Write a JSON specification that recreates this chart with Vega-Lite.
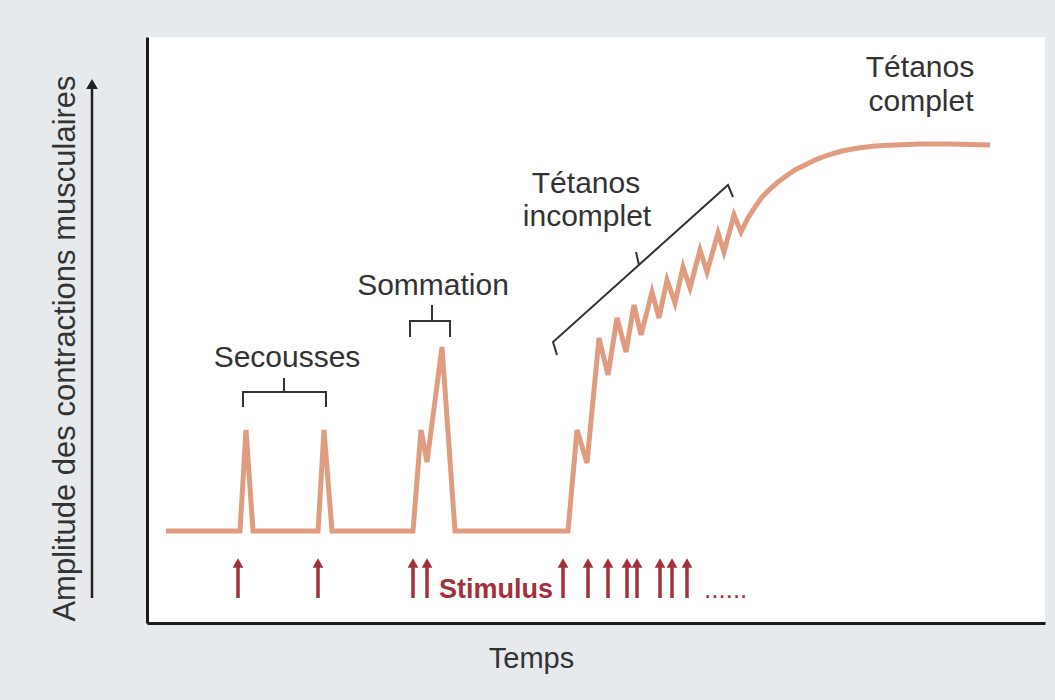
{
  "$schema": "https://vega.github.io/schema/vega-lite/v6.json",
  "width": 898,
  "height": 586,
  "autosize": "none",
  "padding": {"left": 147, "top": 37, "right": 10, "bottom": 77},
  "background": "#e7eaed",
  "view": {"fill": "#ffffff", "stroke": null},
  "config": {
    "font": "Liberation Sans",
    "axis": {"domain": true, "domainColor": "#1a1a1a", "domainWidth": 3, "ticks": false, "labels": false, "grid": false,
      "titleFont": "Liberation Sans", "titleFontWeight": "normal", "titleFontSize": 29, "titleColor": "#333333"}
  },
  "datasets": {
    "curve": [
      {"t": 19, "a": 92}, {"t": 93, "a": 92}, {"t": 99, "a": 193}, {"t": 106, "a": 92},
      {"t": 171, "a": 92}, {"t": 177, "a": 193}, {"t": 185, "a": 92},
      {"t": 266, "a": 92}, {"t": 274, "a": 193}, {"t": 280, "a": 161}, {"t": 295, "a": 276}, {"t": 308, "a": 92},
      {"t": 421, "a": 92}, {"t": 430, "a": 193}, {"t": 440, "a": 160}, {"t": 452, "a": 285}, {"t": 461, "a": 248},
      {"t": 470, "a": 305}, {"t": 479, "a": 271}, {"t": 487, "a": 318}, {"t": 494, "a": 288}, {"t": 505, "a": 331},
      {"t": 512, "a": 305}, {"t": 520, "a": 343}, {"t": 528, "a": 320}, {"t": 536, "a": 356}, {"t": 543, "a": 335},
      {"t": 553, "a": 373}, {"t": 560, "a": 351}, {"t": 571, "a": 390}, {"t": 577, "a": 371}, {"t": 587, "a": 408},
      {"t": 594, "a": 391}, {"t": 601, "a": 405}, {"t": 608, "a": 416}, {"t": 615, "a": 426}, {"t": 623, "a": 434},
      {"t": 631, "a": 441}, {"t": 639, "a": 447}, {"t": 648, "a": 453}, {"t": 658, "a": 458}, {"t": 668, "a": 463},
      {"t": 681, "a": 468}, {"t": 695, "a": 472}, {"t": 711, "a": 475}, {"t": 728, "a": 477}, {"t": 748, "a": 478},
      {"t": 773, "a": 479}, {"t": 803, "a": 479}, {"t": 843, "a": 478}
    ],
    "brackets": [
      {"id": "sec", "i": 1, "t": 96, "a": 216}, {"id": "sec", "i": 2, "t": 96, "a": 231}, {"id": "sec", "i": 3, "t": 179, "a": 231}, {"id": "sec", "i": 4, "t": 179, "a": 216},
      {"id": "sec_c", "i": 1, "t": 137, "a": 231}, {"id": "sec_c", "i": 2, "t": 137, "a": 245},
      {"id": "som", "i": 1, "t": 263, "a": 286}, {"id": "som", "i": 2, "t": 263, "a": 302}, {"id": "som", "i": 3, "t": 303, "a": 302}, {"id": "som", "i": 4, "t": 303, "a": 286},
      {"id": "som_c", "i": 1, "t": 285, "a": 302}, {"id": "som_c", "i": 2, "t": 285, "a": 318},
      {"id": "tet", "i": 1, "t": 410, "a": 268}, {"id": "tet", "i": 2, "t": 406, "a": 281}, {"id": "tet", "i": 3, "t": 581, "a": 438}, {"id": "tet", "i": 4, "t": 586, "a": 426},
      {"id": "tet_c", "i": 1, "t": 492, "a": 358}, {"id": "tet_c", "i": 2, "t": 489, "a": 371}
    ],
    "labels": [
      {"t": 140, "a": 256, "txt": "Secousses"},
      {"t": 286, "a": 328, "txt": "Sommation"},
      {"t": 439, "a": 430, "txt": "Tétanos"},
      {"t": 440, "a": 397, "txt": "incomplet"},
      {"t": 773, "a": 546, "txt": "Tétanos"},
      {"t": 774, "a": 512, "txt": "complet"}
    ],
    "stimuli": [
      {"t": 91}, {"t": 171}, {"t": 266}, {"t": 280}, {"t": 416}, {"t": 441},
      {"t": 461}, {"t": 480}, {"t": 490}, {"t": 513}, {"t": 525}, {"t": 540}
    ],
    "yarrow": [{"t": -55, "a0": 25, "a1": 534, "head": 539}]
  },
  "layer": [
    {
      "data": {"name": "curve"},
      "mark": {"type": "line", "color": "#df9c80", "strokeWidth": 5, "strokeJoin": "miter", "strokeCap": "butt"},
      "encoding": {
        "x": {"field": "t", "type": "quantitative", "scale": {"domain": [0, 898], "nice": false, "zero": false},
          "axis": {"title": "Temps", "titleX": 384, "titleY": 44, "titleBaseline": "alphabetic", "titleAlign": "center"}},
        "y": {"field": "a", "type": "quantitative", "scale": {"domain": [0, 586], "nice": false, "zero": false},
          "axis": {"title": "Amplitude des contractions musculaires", "titleFontSize": 31, "titleX": -73, "titleY": 311, "titleAngle": -90, "titleBaseline": "alphabetic", "titleAlign": "center"}}
      }
    },
    {
      "data": {"name": "brackets"},
      "mark": {"type": "line", "color": "#333333", "strokeWidth": 2, "strokeJoin": "miter"},
      "encoding": {
        "x": {"field": "t", "type": "quantitative"},
        "y": {"field": "a", "type": "quantitative"},
        "detail": {"field": "id"},
        "order": {"field": "i", "type": "quantitative"}
      }
    },
    {
      "data": {"name": "labels"},
      "mark": {"type": "text", "font": "Liberation Sans", "fontSize": 30, "color": "#333333", "align": "center", "baseline": "alphabetic"},
      "encoding": {
        "x": {"field": "t", "type": "quantitative"},
        "y": {"field": "a", "type": "quantitative"},
        "text": {"field": "txt"}
      }
    },
    {
      "data": {"name": "stimuli"},
      "mark": {"type": "rule", "color": "#a3303d", "strokeWidth": 3.5},
      "encoding": {
        "x": {"field": "t", "type": "quantitative"},
        "y": {"datum": 25, "type": "quantitative"},
        "y2": {"datum": 56}
      }
    },
    {
      "data": {"name": "stimuli"},
      "mark": {"type": "point", "shape": "triangle-up", "filled": true, "color": "#a3303d", "size": 115, "opacity": 1},
      "encoding": {
        "x": {"field": "t", "type": "quantitative"},
        "y": {"datum": 60, "type": "quantitative"}
      }
    },
    {
      "data": {"values": [{"t": 292, "a": 25, "txt": "Stimulus"}]},
      "mark": {"type": "text", "font": "Liberation Sans", "fontWeight": "bold", "fontSize": 27, "color": "#a3303d", "align": "left", "baseline": "alphabetic"},
      "encoding": {
        "x": {"field": "t", "type": "quantitative"},
        "y": {"field": "a", "type": "quantitative"},
        "text": {"field": "txt"}
      }
    },
    {
      "data": {"values": [{"t": 557, "a": 25, "txt": "......"}]},
      "mark": {"type": "text", "font": "Liberation Sans", "fontSize": 26, "color": "#a3303d", "align": "left", "baseline": "alphabetic"},
      "encoding": {
        "x": {"field": "t", "type": "quantitative"},
        "y": {"field": "a", "type": "quantitative"},
        "text": {"field": "txt"}
      }
    },
    {
      "data": {"name": "yarrow"},
      "mark": {"type": "rule", "color": "#222222", "strokeWidth": 2.5},
      "encoding": {
        "x": {"field": "t", "type": "quantitative"},
        "y": {"field": "a0", "type": "quantitative"},
        "y2": {"field": "a1"}
      }
    },
    {
      "data": {"name": "yarrow"},
      "mark": {"type": "point", "shape": "triangle-up", "filled": true, "color": "#222222", "size": 140, "opacity": 1},
      "encoding": {
        "x": {"field": "t", "type": "quantitative"},
        "y": {"field": "head", "type": "quantitative"}
      }
    }
  ]
}
